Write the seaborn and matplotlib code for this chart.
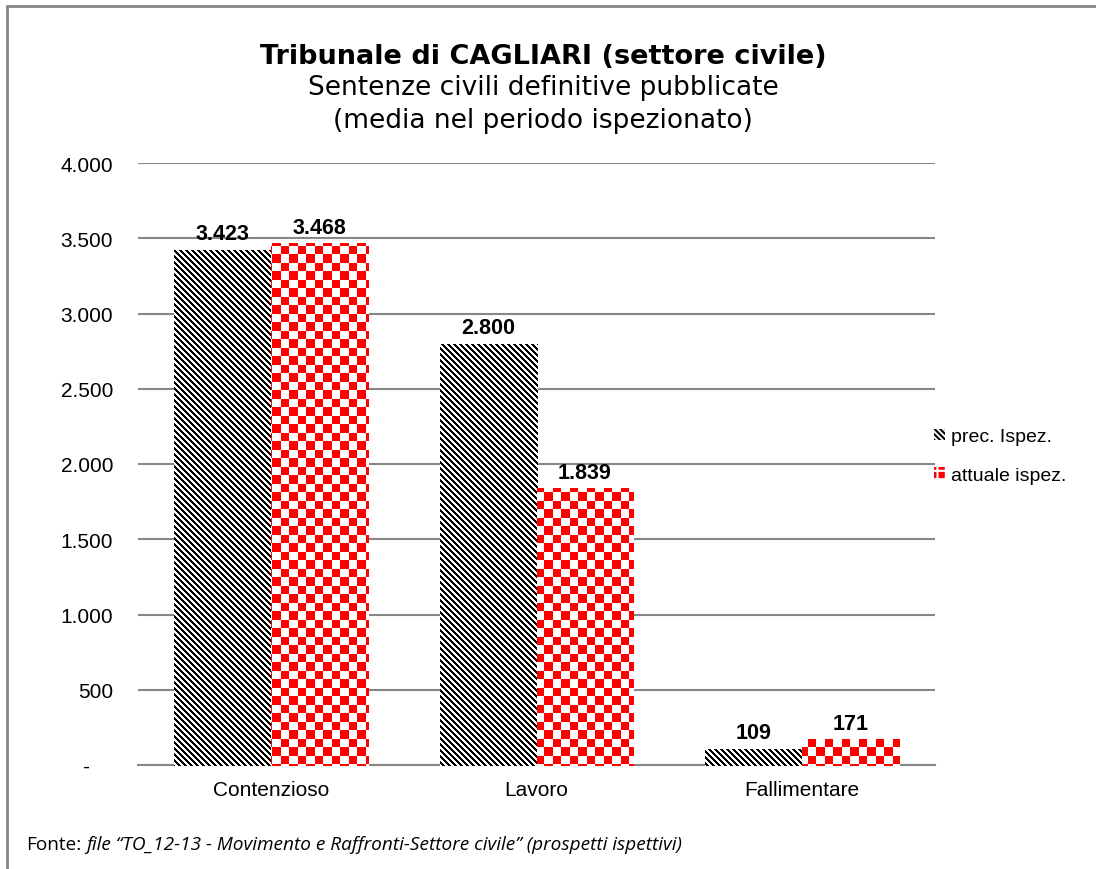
import numpy as np
import pandas as pd
import matplotlib.pyplot as plt
import seaborn as sns
from matplotlib.patches import Patch
from matplotlib.lines import Line2D

# --- data -------------------------------------------------------------
categories = ["Contenzioso", "Lavoro", "Fallimentare"]
series = ["prec. Ispez.", "attuale ispez."]
prec_values = [3423, 2800, 109]
attuale_values = [3468, 1839, 171]
y_ticks = [0, 500, 1000, 1500, 2000, 2500, 3000, 3500, 4000]

title = "Tribunale di CAGLIARI (settore civile)"
subtitle = ["Sentenze civili definitive pubblicate", "(media nel periodo ispezionato)"]
source_lead = "Fonte:"
source_text = "file \u201cTO_12-13 - Movimento e Raffronti-Settore civile\u201d (prospetti ispettivi)"

W, H, DPI = 1096, 870, 100
GRID = "#868686"


def fmt_it(v):
    """Excel-like italian number format: dots for thousands, dash for zero."""
    if v == 0:
        return "-    "
    return f"{v:,.0f}".replace(",", ".")


df = pd.DataFrame({
    "categoria": categories * 2,
    "serie": [series[0]] * len(categories) + [series[1]] * len(categories),
    "valore": prec_values + attuale_values,
})

sns.set_style("white")
plt.rcParams["font.family"] = ["Liberation Sans", "DejaVu Sans"]
plt.rcParams["text.color"] = "black"
plt.rcParams["xtick.color"] = "black"
plt.rcParams["ytick.color"] = "black"
plt.rcParams["hatch.linewidth"] = 1.5

fig = plt.figure(figsize=(W / DPI, H / DPI), dpi=DPI)
ax = fig.add_axes([138 / W, 104 / H, 797 / W, 602 / H])

sns.barplot(data=df, x="categoria", y="valore", hue="serie",
            order=categories, hue_order=series, palette=["black", "red"],
            width=0.73, gap=0, errorbar=None, legend=False, ax=ax,
            linewidth=0, zorder=2)

ax.set_xlim(-0.5, 2.5)
ax.set_ylim(0, 4000)
ax.set_yticks(y_ticks)
ax.set_yticklabels([fmt_it(v) for v in y_ticks])
ax.set_xlabel("")
ax.set_ylabel("")
ax.tick_params(axis="y", length=0, pad=18, labelsize=15, labelcolor="black")
ax.tick_params(axis="x", length=0, pad=11, labelsize=15, labelcolor="black")
ax.yaxis.grid(True, color=GRID, lw=1.5)
ax.set_axisbelow(True)
for side in ["left", "right", "top"]:
    ax.spines[side].set_visible(False)
ax.spines["bottom"].set_color(GRID)
ax.spines["bottom"].set_linewidth(1.5)

for cont in ax.containers:
    ax.bar_label(cont, labels=[fmt_it(v) for v in cont.datavalues],
                 fontsize=15.5, fontweight="bold", padding=4, color="black")

# textures: black diagonal stripes and red checkerboard, clipped to the bars
rows, cols = np.mgrid[0:H, 0:W]
stripes = np.ones((H, W, 3))
stripes[((cols - rows) % 6) < 3] = 0
checker = np.ones((H, W, 3))
checker[((np.floor(rows / 8.5) + np.floor(cols / 8.5)) % 2) == 0] = [1, 0, 0]

for cont, tex in zip(ax.containers, [stripes, checker]):
    for bar in cont:
        bar.set_facecolor("white")
        im = fig.figimage(tex, 0, 0, origin="upper", zorder=1)
        im.set_clip_path(bar)

handles = [
    Patch(facecolor="white", edgecolor="black", hatch="\\\\\\\\\\\\", lw=0),
    Patch(facecolor="red", edgecolor="white", hatch="++", lw=0),
]
fig.legend(handles, series, loc="center left",
           bbox_to_anchor=(934 / W, 1 - 457 / H), frameon=False,
           fontsize=14, handlelength=0.55, handleheight=0.55,
           handletextpad=0.3, labelspacing=1.1, borderpad=0,
           borderaxespad=0)

# titles
fig.text(543 / W, 1 - 57 / H, title, ha="center", va="center",
         fontsize=19.5, fontweight="bold", family="DejaVu Sans")
for i, line in enumerate(subtitle):
    fig.text(543 / W, 1 - (88 + 33 * i) / H, line, ha="center", va="center",
             fontsize=19, family="DejaVu Sans")

# outer frame (only left and top are visible in the crop)
fig.add_artist(Line2D([7 / W, 7 / W], [0, 1 - 7 / H],
                      transform=fig.transFigure, color=GRID, lw=2))
fig.add_artist(Line2D([7 / W, 1], [1 - 7 / H, 1 - 7 / H],
                      transform=fig.transFigure, color=GRID, lw=2))

# footer
t1 = fig.text(26 / W, 1 - 845 / H, source_lead, ha="left", va="center",
              fontsize=13.7, family="Open Sans")
fig.canvas.draw()
bb = t1.get_window_extent()
fig.text((bb.x1 + 5) / W, 1 - 845 / H, source_text, ha="left", va="center",
         fontsize=13.7, family="Open Sans", style="italic")

fig.savefig("out.png", dpi=DPI)
plt.close(fig)
